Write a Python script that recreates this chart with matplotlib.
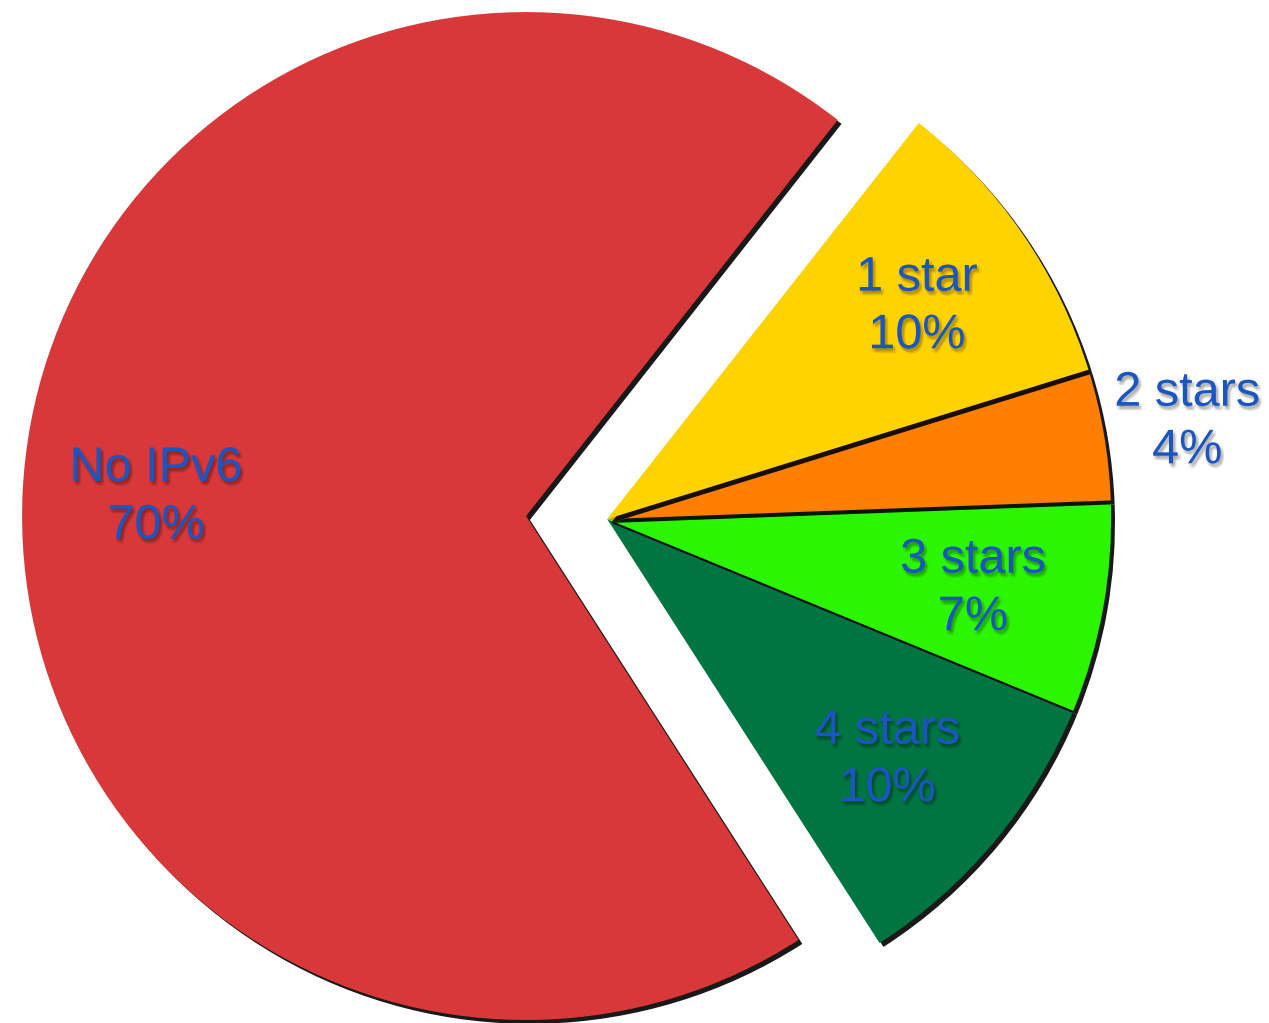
import matplotlib
matplotlib.use('Agg')
import matplotlib.pyplot as plt
import matplotlib.patheffects as pe
import numpy as np

# slices, clockwise starting from the top of "1 star"
labels = ['1 star', '2 stars', '3 stars', '4 stars', 'No IPv6']
values = [9.6, 4.2, 6.8, 9.7, 69.7]
pct_text = ['10%', '4%', '7%', '10%', '70%']
colours = ['#FFD300', '#FF7F00', '#2CF500', '#007542', '#D8383A']

# label positions (radius, angle in degrees) measured from each wedge's centre
label_pos = [(0.745, 34.4), (1.167, 9.5), (0.739, -10.8), (0.733, -40.7), (0.735, 177.1)]

fig = plt.figure(figsize=(12.69, 10.23), dpi=100)
ax = fig.add_axes([0, 0, 1, 1])

wedges, _ = ax.pie(values, colors=colours, startangle=51.8, counterclock=False,
                   radius=1.0, wedgeprops=dict(linewidth=0))

shadow = [pe.SimplePatchShadow(offset=(2.8, -2.8), shadow_rgbFace='black', alpha=0.9),
          pe.Normal()]
for i, w in enumerate(wedges):
    if labels[i] != 'No IPv6':
        w.set_center((0.161, -0.006))
    w.set_path_effects(shadow)
    # earlier slices sit on top so their shadow falls on the next one
    w.set_zorder(10 - i)

# soft blurred drop shadow for the labels
txt_fx = [pe.SimplePatchShadow(offset=(dx, -dy), shadow_rgbFace='black', alpha=0.07)
          for dx, dy in [(0.5, 1.0), (1.5, 2.0), (2.5, 3.0), (0.0, 2.5), (2.5, 1.0), (1.5, 3.5)]]
txt_fx.append(pe.Normal())
for i, (r, a) in enumerate(label_pos):
    cx, cy = wedges[i].center
    x = cx + r * np.cos(np.radians(a))
    y = cy + r * np.sin(np.radians(a))
    ax.text(x, y, labels[i] + '\n' + pct_text[i], ha='center', va='center',
            fontsize=35, color='#1A55C0', family='Liberation Sans',
            linespacing=1.36, zorder=20, path_effects=txt_fx)

ax.set_xlim(-1.0437, 1.4742)
ax.set_ylim(-1.006, 1.024)
ax.set_aspect('equal')
ax.axis('off')

fig.savefig('out.png', dpi=100, facecolor='white')
